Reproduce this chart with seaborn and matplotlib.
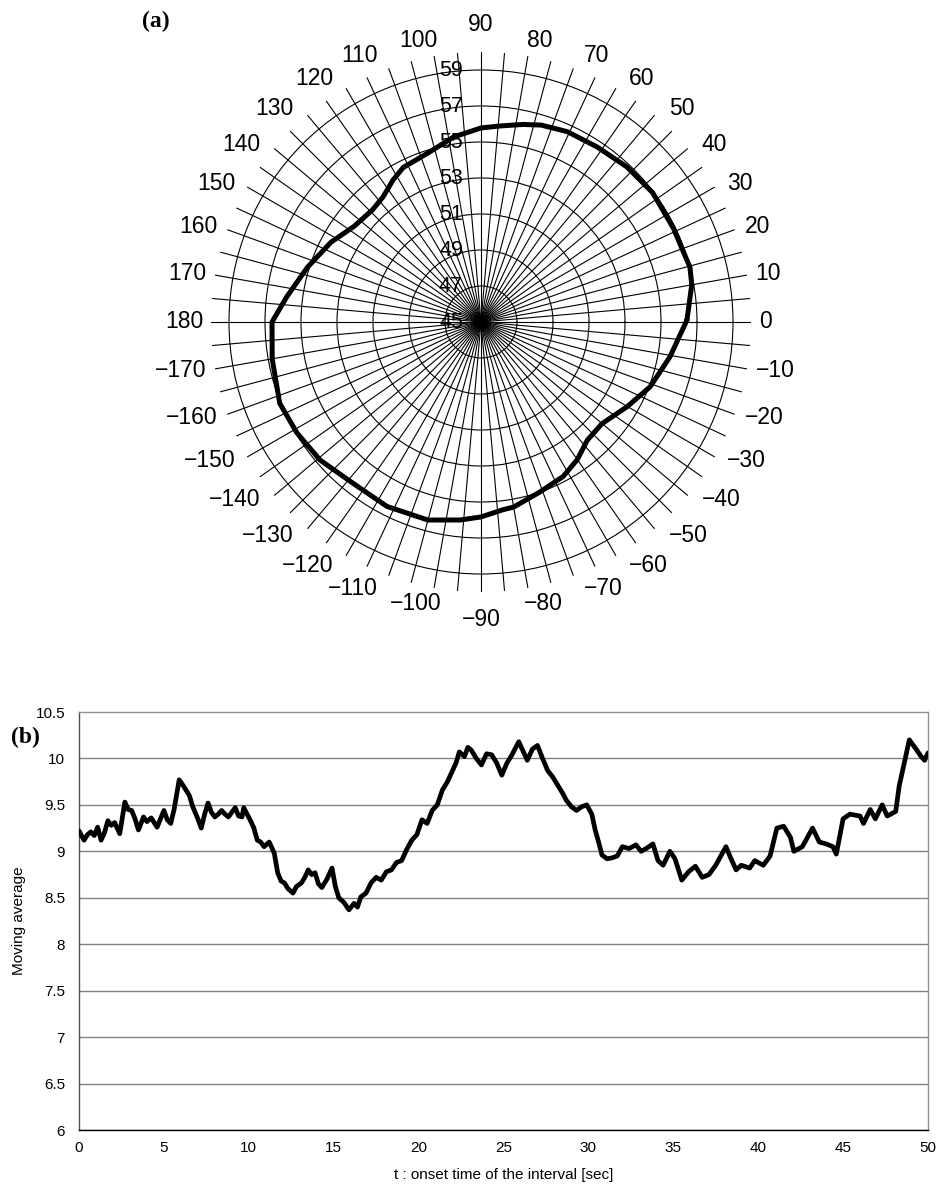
import numpy as np
import pandas as pd
import matplotlib
matplotlib.use("Agg")
import matplotlib.pyplot as plt
import seaborn as sns

# ---------------- data ----------------
# (a) directional profile: angle [deg] and value along the closed curve
angle_deg = [0.5, 10, 14.7, 26, 37, 46.7, 56.5, 65.6, 73, 78,
             84.5, 90, 98.4, 107.7, 116.7, 121.8, 128, 134, 143, 152,
             162.5, 172.7, 180, 190, 202, 211, 220.6, 231.5, 243, 255,
             264, 270, 276.7, 280, 289, 298, 305, 312, 320, 330,
             339, 349.5]
profile = [56.44, 56.89, 57.00, 56.89, 56.94, 56.83, 56.67, 56.61, 56.44, 56.22,
           55.94, 55.78, 55.39, 54.83, 54.61, 54.28, 53.83, 53.67, 53.83, 54.44,
           55.11, 55.89, 56.61, 56.78, 57.06, 56.94, 56.78, 56.44, 56.50, 56.39,
           56.06, 55.83, 55.50, 55.44, 55.00, 54.72, 54.33, 53.83, 53.78, 54.39,
           55.06, 55.67]
radial_ticks = [45, 47, 49, 51, 53, 55, 57, 59]
angle_labels = list(range(0, 190, 10)) + list(range(-170, 0, 10))

# (b) moving average against onset time
t_sec = [0.0, 0.3, 0.5, 0.7, 0.9, 1.1, 1.3, 1.5, 1.7, 1.9,
         2.1, 2.4, 2.7, 2.9, 3.1, 3.3, 3.5, 3.8, 4.0, 4.25,
         4.6, 4.8, 5.0, 5.2, 5.4, 5.6, 5.9, 6.2, 6.5, 6.7,
         7.0, 7.2, 7.4, 7.6, 7.8, 8.0, 8.2, 8.4, 8.6, 8.8,
         9.0, 9.2, 9.4, 9.6, 9.7, 9.9, 10.1, 10.3, 10.5, 10.7,
         10.9, 11.2, 11.5, 11.7, 11.9, 12.1, 12.3, 12.6, 12.8, 13.1,
         13.3, 13.5, 13.7, 13.9, 14.1, 14.3, 14.6, 14.9, 15.1, 15.3,
         15.6, 15.9, 16.2, 16.4, 16.6, 16.9, 17.2, 17.5, 17.8, 18.1,
         18.4, 18.7, 19.0, 19.3, 19.6, 19.9, 20.2, 20.5, 20.8, 21.1,
         21.4, 21.7, 22.0, 22.2, 22.4, 22.7, 22.9, 23.1, 23.4, 23.7,
         24.0, 24.3, 24.6, 24.9, 25.2, 25.5, 25.9, 26.1, 26.4, 26.7,
         27.0, 27.3, 27.6, 27.9, 28.2, 28.5, 28.7, 29.0, 29.3, 29.6,
         29.9, 30.2, 30.4, 30.6, 30.8, 31.1, 31.4, 31.7, 32.0, 32.4,
         32.8, 33.1, 33.4, 33.8, 34.1, 34.4, 34.8, 35.1, 35.5, 35.9,
         36.3, 36.7, 37.1, 37.5, 37.8, 38.1, 38.4, 38.7, 39.0, 39.5,
         39.8, 40.3, 40.7, 41.1, 41.5, 41.9, 42.1, 42.6, 43.2, 43.6,
         44.0, 44.4, 44.6, 45.0, 45.4, 46.0, 46.2, 46.6, 46.9, 47.3,
         47.6, 48.1, 48.3, 48.6, 48.9, 49.1, 49.3, 49.6, 49.8, 50.0]
moving_avg = [9.22, 9.12, 9.18, 9.21, 9.17, 9.26, 9.12, 9.20, 9.33, 9.28,
              9.31, 9.19, 9.53, 9.45, 9.44, 9.35, 9.23, 9.37, 9.32, 9.36,
              9.26, 9.35, 9.44, 9.34, 9.30, 9.45, 9.77, 9.69, 9.60, 9.48,
              9.35, 9.25, 9.40, 9.52, 9.42, 9.37, 9.40, 9.44, 9.40, 9.37,
              9.42, 9.47, 9.38, 9.37, 9.47, 9.40, 9.33, 9.25, 9.12, 9.10,
              9.05, 9.10, 8.98, 8.77, 8.68, 8.66, 8.60, 8.55, 8.62, 8.66,
              8.72, 8.80, 8.75, 8.77, 8.65, 8.61, 8.70, 8.82, 8.62, 8.50,
              8.45, 8.37, 8.44, 8.40, 8.51, 8.55, 8.66, 8.72, 8.69, 8.78,
              8.80, 8.88, 8.90, 9.02, 9.12, 9.18, 9.34, 9.30, 9.44, 9.50,
              9.66, 9.75, 9.87, 9.95, 10.07, 10.02, 10.12, 10.09, 10.00, 9.93,
              10.05, 10.04, 9.95, 9.82, 9.95, 10.04, 10.18, 10.10, 9.98, 10.10,
              10.14, 10.00, 9.87, 9.80, 9.71, 9.62, 9.55, 9.48, 9.44, 9.48,
              9.50, 9.40, 9.23, 9.10, 8.96, 8.92, 8.93, 8.95, 9.05, 9.03,
              9.07, 9.00, 9.03, 9.08, 8.90, 8.85, 9.00, 8.92, 8.69, 8.78,
              8.84, 8.72, 8.75, 8.85, 8.95, 9.05, 8.92, 8.80, 8.85, 8.82,
              8.90, 8.85, 8.95, 9.25, 9.27, 9.15, 9.00, 9.05, 9.25, 9.10,
              9.08, 9.05, 8.97, 9.35, 9.40, 9.38, 9.30, 9.45, 9.35, 9.50,
              9.38, 9.43, 9.70, 9.95, 10.20, 10.15, 10.10, 10.02, 9.98, 10.06]
y_ticks_b = [6, 6.5, 7, 7.5, 8, 8.5, 9, 9.5, 10, 10.5]
x_ticks_b = [0, 5, 10, 15, 20, 25, 30, 35, 40, 45, 50]

# ---------------- style ----------------
sns.set_style("white")
plt.rcParams["font.family"] = ["Liberation Sans", "DejaVu Sans"]
for key in ("text.color", "axes.labelcolor", "xtick.color", "ytick.color"):
    plt.rcParams[key] = "black"

W, H, DPI = 937, 1191, 100
fig = plt.figure(figsize=(W / DPI, H / DPI), dpi=DPI)

# ---------------- (a) polar profile ----------------
R_PX = 270.0          # radius of the plotting area in pixels
R_MIN, R_MAX = 45, 60
cx, cy = 481, 322     # centre of the polar plot (pixels from top-left)
axp = fig.add_axes([(cx - R_PX) / W, 1 - (cy + R_PX) / H,
                    2 * R_PX / W, 2 * R_PX / H], projection="polar")
axp.set_ylim(R_MIN, R_MAX)
axp.set_thetagrids(np.arange(0, 360, 5), labels=[])
axp.set_rgrids(radial_ticks[1:], labels=[])
axp.grid(True, color="black", lw=0.8)
axp.spines["polar"].set_visible(False)
axp.tick_params(length=0)
axp.set_facecolor("none")

df_a = pd.DataFrame({
    "theta": np.radians(angle_deg + [angle_deg[0] + 360]),
    "r": profile + [profile[0]],
})
sns.lineplot(data=df_a, x="theta", y="r", ax=axp, sort=False, estimator=None,
             color="black", lw=3.6, solid_joinstyle="round", zorder=5)
axp.set_xlabel("")
axp.set_ylabel("")

# radial value labels just left of the 90-degree spoke
for v in radial_ticks:
    axp.annotate(str(v), xy=(np.pi / 2, v), xytext=(-18, 0),
                 textcoords="offset pixels", ha="right", va="center",
                 fontsize=15.5, color="black", annotation_clip=False, zorder=6)

# angle labels around the outside
DIGIT_W, MINUS_W, TXT_H = 12.7, 13.4, 16.4
for a in angle_labels:
    txt = str(a).replace("-", "\u2212")
    th = np.radians(a)
    thp = th - np.radians(2.5) * np.sin(2 * th)
    w = sum(MINUS_W if ch == "\u2212" else DIGIT_W for ch in txt)
    sx = np.clip(3 * np.cos(th), -1, 1)
    sy = np.clip(3 * np.sin(th), -1, 1)
    px = 278 * np.cos(thp) + sx * w / 2
    py = 278 * np.sin(thp) + sy * TXT_H / 2
    if abs(np.sin(th)) > 0.999:
        py += 11 * np.sign(np.sin(th))
    dx = px - R_PX * np.cos(th)
    dy = py - R_PX * np.sin(th)
    axp.annotate(txt, xy=(th, R_MAX), xytext=(dx, dy),
                 textcoords="offset pixels", ha="center", va="center",
                 fontsize=16.5, color="black", annotation_clip=False)

fig.text(156 / W, 1 - 21 / H, "(a)", family=["Liberation Serif", "DejaVu Serif"],
         fontweight="bold", fontsize=17, ha="center", va="center")

# ---------------- (b) moving average ----------------
left, right, top, bottom = 79, 928, 712, 1130
axb = fig.add_axes([left / W, 1 - bottom / H, (right - left) / W, (bottom - top) / H])
df_b = pd.DataFrame({"t": t_sec, "v": moving_avg})
sns.lineplot(data=df_b, x="t", y="v", ax=axb, sort=False, estimator=None,
             color="black", lw=3.4, solid_joinstyle="round", zorder=5)
axb.set_xlim(0, 50)
axb.set_ylim(6, 10.5)
axb.set_yticks(y_ticks_b)
axb.set_yticklabels([f"{v:g}" for v in y_ticks_b])
axb.set_xticks(x_ticks_b)
axb.set_xticklabels([str(v) for v in x_ticks_b])
axb.yaxis.grid(True, color="#808080", lw=1.0)
axb.xaxis.grid(False)
axb.get_ygridlines()[-1].set_visible(False)
axb.tick_params(axis="y", length=0, pad=10, labelsize=11)
axb.tick_params(axis="x", length=0, pad=8, labelsize=11)
for side in ("top", "right"):
    axb.spines[side].set_color("#909090")
    axb.spines[side].set_linestyle((0, (1, 1)))
    axb.spines[side].set_linewidth(1.0)
axb.spines["left"].set_color("#505050")
axb.spines["left"].set_linewidth(1.0)
axb.spines["bottom"].set_color("black")
axb.spines["bottom"].set_linewidth(1.0)
axb.set_xlabel("t : onset time of the interval [sec]", fontsize=11, labelpad=9)
axb.set_ylabel("Moving average", fontsize=11, labelpad=7)

fig.text(25 / W, 1 - 737 / H, "(b)", family=["Liberation Serif", "DejaVu Serif"],
         fontweight="bold", fontsize=17, ha="center", va="center")

fig.savefig("out.png", dpi=DPI, facecolor="white")
